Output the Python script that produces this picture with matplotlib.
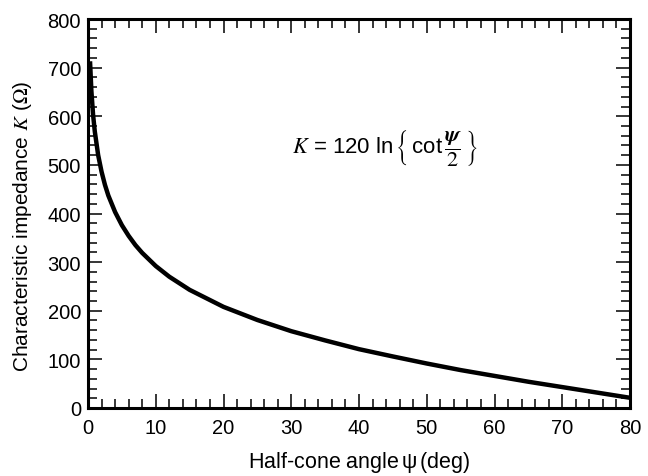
import matplotlib
matplotlib.use("Agg")
import matplotlib.pyplot as plt
from matplotlib.ticker import MultipleLocator

# values
psi_deg = [0.3, 0.5, 0.75, 1, 1.5, 2, 2.5, 3, 4, 5, 6, 7, 8, 10, 12, 15,
           20, 25, 30, 35, 40, 45, 50, 55, 60, 65, 70, 75, 80]
k_ohm = [713, 652, 603, 569, 520, 486, 459, 437, 403, 376, 354, 335, 319,
         292, 270, 243, 208, 181, 158, 139, 121, 106, 91.5, 78, 66, 54, 43,
         32, 21]

plt.rcParams['font.family'] = ['Liberation Sans', 'DejaVu Sans']
plt.rcParams['mathtext.fontset'] = 'stix'

fig = plt.figure(figsize=(6.48, 4.77), dpi=100)
ax = fig.add_axes([88 / 648, 68 / 477, 542 / 648, 389 / 477])

ax.plot(psi_deg, k_ohm, color='black', lw=3.2, solid_capstyle='butt')

ax.set_xlim(0, 80)
ax.set_ylim(0, 800)
ax.xaxis.set_major_locator(MultipleLocator(10))
ax.xaxis.set_minor_locator(MultipleLocator(2))
ax.yaxis.set_major_locator(MultipleLocator(100))
ax.yaxis.set_minor_locator(MultipleLocator(20))
ax.tick_params(which='both', direction='in', top=True, right=True,
               labelsize=14.5, width=1.1, color='black')
ax.tick_params(which='major', length=10)
ax.tick_params(axis='x', which='major', pad=7)
ax.tick_params(axis='y', which='major', pad=5)
ax.tick_params(which='minor', length=6.5)
for sp in ax.spines.values():
    sp.set_linewidth(2.2)

ax.set_xlabel(r'Half-cone angle$\,\mathregular{\psi}\,$(deg)', fontsize=15.5,
              labelpad=9)
ax.set_ylabel(r'Characteristic impedance $K$ ($\Omega$)', fontsize=15,
              labelpad=7)
ax.yaxis.set_label_coords(-0.1, 0.47)

ax.text(0.376, 0.67,
        r'$K$ = 120 ln$\,\left\{\,\mathregular{cot}\,\dfrac{\boldsymbol{\psi}}{2}\,\right\}$',
        transform=ax.transAxes, fontsize=16, ha='left', va='center')

fig.savefig('out.png', dpi=100)
